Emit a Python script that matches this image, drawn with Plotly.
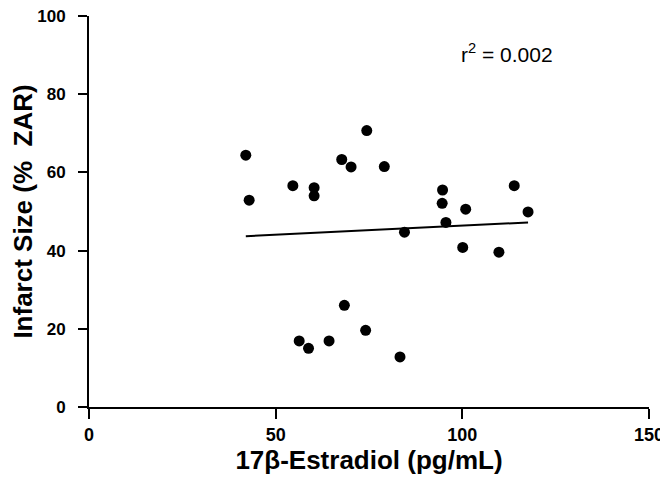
import plotly.graph_objects as go

estradiol = [42.0, 42.9, 54.6, 60.3, 60.3, 67.7, 70.2, 74.4, 79.1, 84.5,
             94.7, 94.6, 95.6, 100.9, 100.1, 109.8, 113.9, 117.6,
             56.3, 58.8, 64.3, 68.4, 74.1, 83.3]
infarct = [64.4, 52.9, 56.6, 56.1, 54.0, 63.3, 61.4, 70.7, 61.5, 44.7,
           55.5, 52.1, 47.2, 50.6, 40.8, 39.6, 56.6, 49.9,
           16.9, 15.0, 16.9, 26.0, 19.6, 12.8]
fit_x = [42.0, 117.6]
fit_y = [43.7, 47.2]
x_ticks = [0, 50, 100, 150]
y_ticks = [0, 20, 40, 60, 80, 100]

font = "Liberation Sans, Arial, sans-serif"

fig = go.Figure()
fig.add_trace(go.Scatter(x=estradiol, y=infarct, mode="markers",
                         marker=dict(color="black", size=11), showlegend=False))
fig.add_trace(go.Scatter(x=fit_x, y=fit_y, mode="lines",
                         line=dict(color="black", width=2), showlegend=False))

fig.add_annotation(x=0.746, y=0.905, xref="paper", yref="paper",
                   xanchor="center", yanchor="middle",
                   text="r<sup>2</sup> = 0.002", showarrow=False,
                   font=dict(family=font, size=21, color="black"))

fig.update_xaxes(range=[0, 150], tickvals=x_ticks, showline=True, linecolor="black",
                 linewidth=2, ticks="outside", ticklen=10, tickwidth=2, tickcolor="black",
                 showgrid=False, zeroline=False, ticklabelstandoff=0, automargin="bottom",
                 ticklabeloverflow="allow",
                 tickfont=dict(family=font, size=18, color="black", weight="bold"),
                 title=dict(text="17β-Estradiol (pg/mL)", standoff=5,
                            font=dict(family=font, size=26, color="black", weight="bold")))
fig.update_yaxes(range=[0, 100], tickvals=y_ticks, showline=True, linecolor="black",
                 linewidth=2, ticks="outside", ticklen=9, tickwidth=2, tickcolor="black",
                 showgrid=False, zeroline=False, ticklabelstandoff=9, automargin="left",
                 ticklabeloverflow="allow",
                 tickfont=dict(family=font, size=17, color="black", weight="bold"),
                 title=dict(text="Infarct Size (%  ZAR)", standoff=2,
                            font=dict(family=font, size=26, color="black", weight="bold")))

fig.update_layout(width=660, height=476, plot_bgcolor="white", paper_bgcolor="white",
                  margin=dict(l=81, r=19, t=8, b=77))

fig.write_html("out.html")
